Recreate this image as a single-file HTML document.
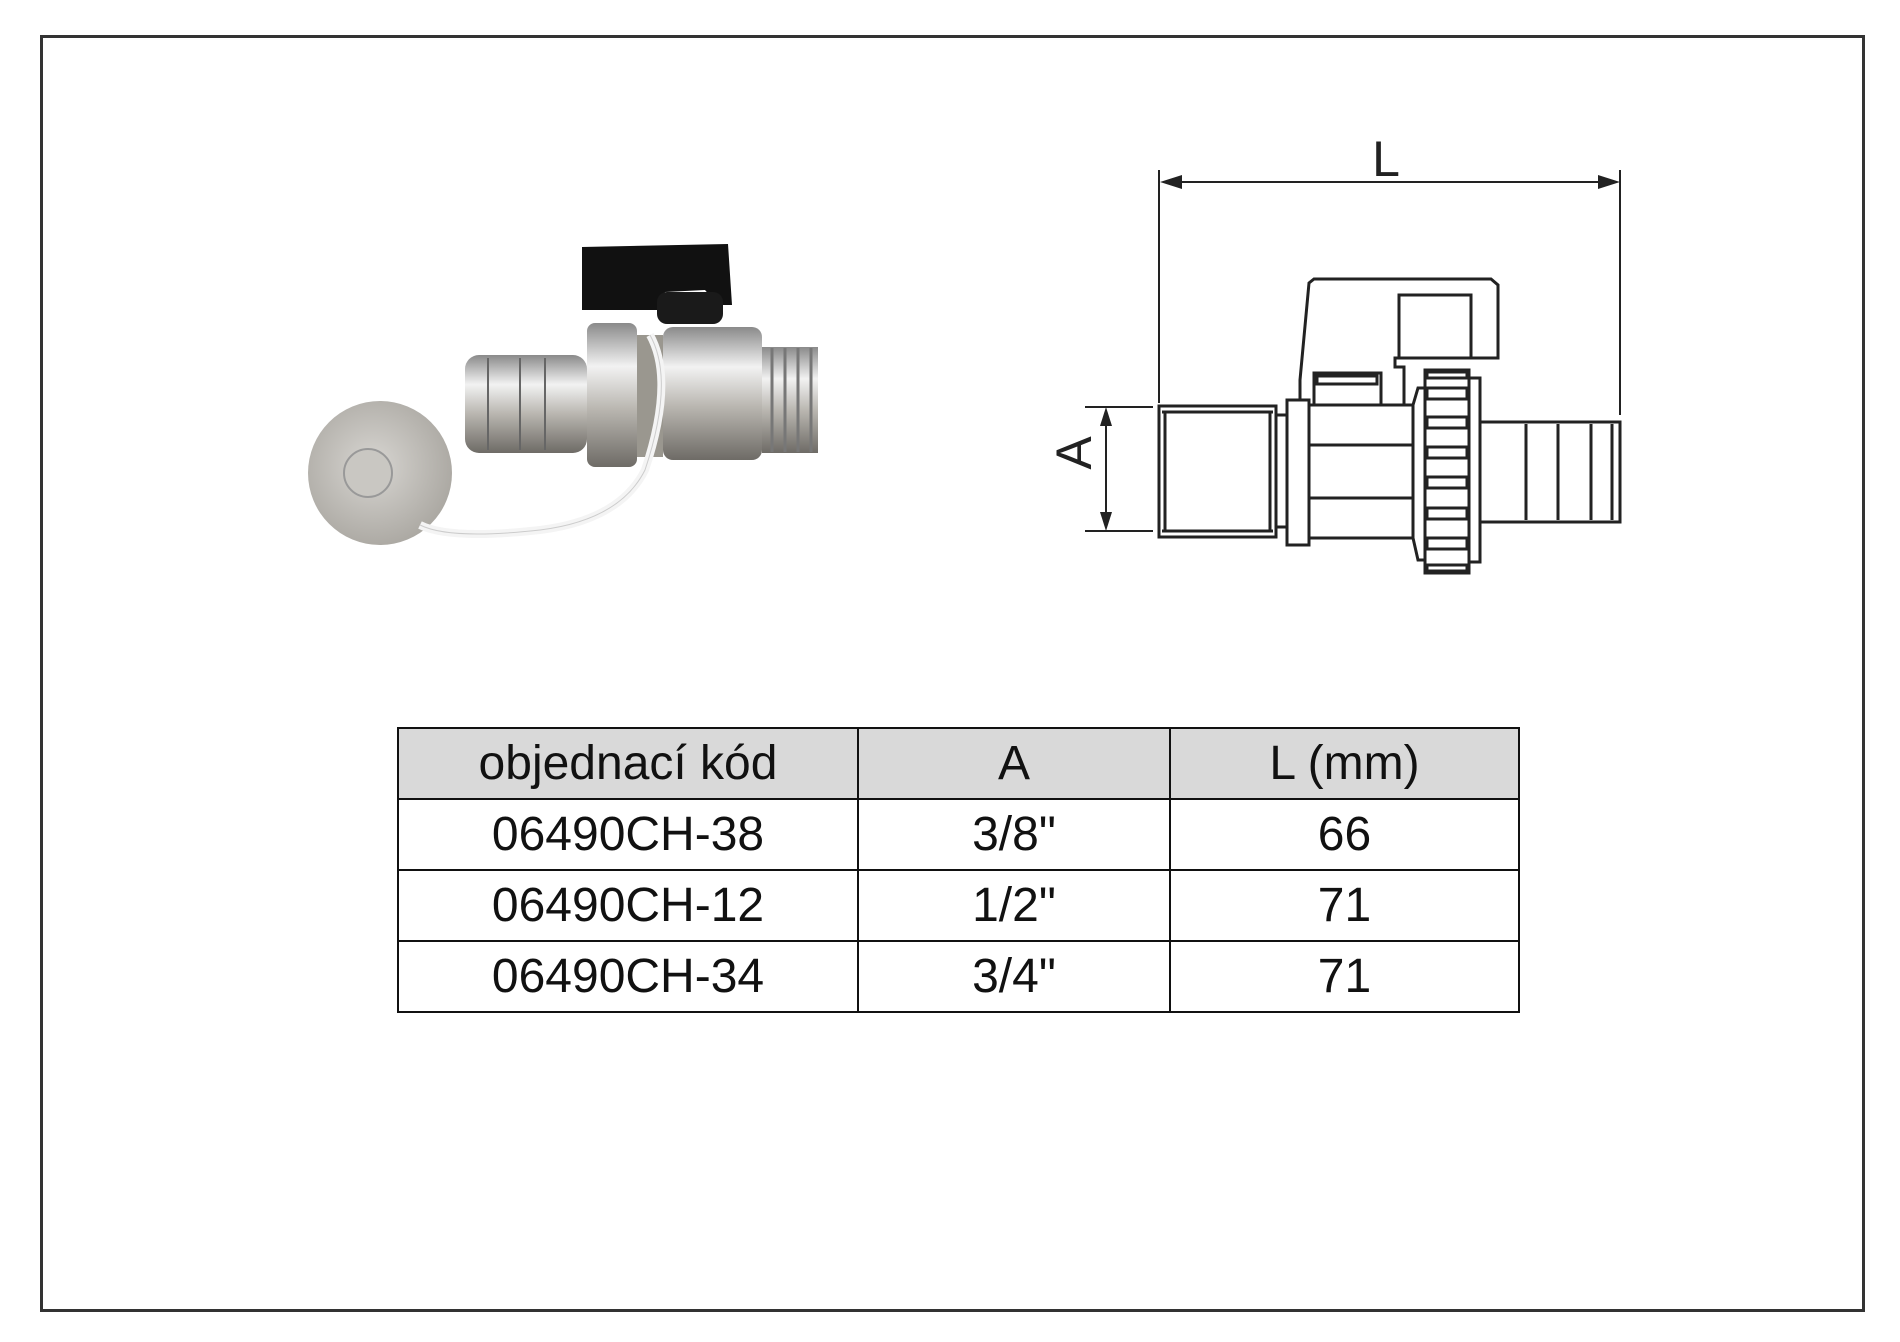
<!DOCTYPE html>
<html><head><meta charset="utf-8"><style>
html,body{margin:0;padding:0;background:#fff}
body{width:1900px;height:1342px;position:relative;overflow:hidden;font-family:"Liberation Sans",sans-serif}
.frame{position:absolute;left:40px;top:35px;width:1825px;height:1277px;border:3px solid #333;box-sizing:border-box}
table{position:absolute;left:397px;top:727px;border-collapse:collapse;font-size:48px;color:#111}
td{border:2.5px solid #111;text-align:center;height:69px;padding:0;line-height:69px}
tr.h td{background:#d9d9d9}
</style></head><body>
<div class="frame"></div>
<svg width="1900" height="1342" style="position:absolute;left:0;top:0">
<defs>
<linearGradient id="m" x1="0" y1="0" x2="0" y2="1"><stop offset="0" stop-color="#8a8a8a"/><stop offset=".3" stop-color="#f2f2f2"/><stop offset=".6" stop-color="#b9b6b0"/><stop offset="1" stop-color="#6e6b66"/></linearGradient>
<radialGradient id="c" cx=".45" cy=".45" r=".6"><stop offset="0" stop-color="#d8d6d2"/><stop offset="1" stop-color="#a9a6a0"/></radialGradient>
</defs>
<rect x="465" y="355" width="122" height="98" rx="14" fill="url(#m)"/>
<line x1="488" y1="358" x2="488" y2="450" stroke="#666" stroke-width="2"/>
<line x1="520" y1="358" x2="520" y2="450" stroke="#666" stroke-width="2"/>
<line x1="545" y1="358" x2="545" y2="450" stroke="#666" stroke-width="2"/>
<rect x="587" y="323" width="50" height="144" rx="8" fill="url(#m)"/>
<rect x="637" y="335" width="26" height="122" fill="#9a978f"/>
<rect x="663" y="327" width="99" height="133" rx="10" fill="url(#m)"/>
<rect x="762" y="347" width="56" height="106" fill="url(#m)"/>
<g stroke="#777" stroke-width="3"><line x1="772" y1="348" x2="772" y2="452"/><line x1="785" y1="348" x2="785" y2="452"/><line x1="798" y1="348" x2="798" y2="452"/><line x1="811" y1="348" x2="811" y2="452"/></g>
<path d="M582 247 L728 244 L732 305 L718 305 L705 290 L665 292 L658 310 L582 310 Z" fill="#111"/>
<rect x="657" y="292" width="66" height="32" rx="10" fill="#1a1a1a"/>
<circle cx="380" cy="473" r="72" fill="url(#c)"/>
<circle cx="368" cy="473" r="24" fill="#c9c7c2" stroke="#999" stroke-width="2"/>
<path d="M650 335 Q675 380 645 470 Q620 520 540 530 Q450 540 420 525" fill="none" stroke="#f4f4f4" stroke-width="8"/>
<path d="M650 335 Q675 380 645 470 Q620 520 540 530 Q450 540 420 525" fill="none" stroke="#ccc" stroke-width="1"/>
<g stroke="#222" fill="none">
<line x1="1159" y1="170" x2="1159" y2="403" stroke-width="2"/>
<line x1="1620" y1="170" x2="1620" y2="415" stroke-width="2"/>
<line x1="1175" y1="182" x2="1605" y2="182" stroke-width="2"/>
<line x1="1085" y1="407" x2="1153" y2="407" stroke-width="2"/>
<line x1="1085" y1="531" x2="1153" y2="531" stroke-width="2"/>
<line x1="1106" y1="422" x2="1106" y2="516" stroke-width="2"/>
</g>
<g fill="#222">
<path d="M1160 182 L1182 175 L1182 189 Z"/><path d="M1620 182 L1598 175 L1598 189 Z"/>
<path d="M1106 407 L1100 426 L1112 426 Z"/><path d="M1106 531 L1100 512 L1112 512 Z"/>
</g>
<text x="1386" y="176" font-size="50" text-anchor="middle" font-family="Liberation Sans" fill="#222">L</text>
<text transform="translate(1091,453) rotate(-90)" font-size="50" text-anchor="middle" font-family="Liberation Sans" fill="#222">A</text>
<g stroke="#222" stroke-width="3" fill="#fff">
<path d="M1300 380 L1309 283 L1314 279 L1491 279 L1498 285 L1498 358 L1395 358 L1395 367 L1404 367 L1404 405 L1300 405 Z"/>
<rect x="1399" y="295" width="72" height="63"/>
<rect x="1314" y="373" width="67" height="32"/>
<rect x="1317" y="376" width="60" height="8"/>
<rect x="1159" y="406" width="117" height="131"/>
<line x1="1165" y1="412" x2="1165" y2="531"/><line x1="1270" y1="412" x2="1270" y2="531"/>
<line x1="1162" y1="412" x2="1273" y2="412"/><line x1="1162" y1="531" x2="1273" y2="531"/>
<rect x="1276" y="415" width="11" height="112"/>
<rect x="1287" y="400" width="22" height="145"/>
<rect x="1309" y="405" width="104" height="133"/>
<line x1="1309" y1="445" x2="1413" y2="445"/><line x1="1309" y1="498" x2="1413" y2="498"/>
<path d="M1413 405 L1418 388 L1425 388 L1425 560 L1418 560 L1413 538 Z"/>
<rect x="1469" y="378" width="11" height="184"/>
<rect x="1480" y="422" width="140" height="100"/>
<line x1="1526" y1="424" x2="1526" y2="520"/><line x1="1558" y1="424" x2="1558" y2="520"/><line x1="1591" y1="424" x2="1591" y2="520"/><line x1="1612" y1="424" x2="1612" y2="520"/>
<rect x="1425" y="370" width="44" height="203"/>
</g>
<g stroke="#222" stroke-width="3" fill="#fff">
<rect x="1427" y="372" width="40" height="6"/>
<rect x="1427" y="388" width="40" height="11"/>
<rect x="1427" y="417" width="40" height="11"/>
<rect x="1427" y="447" width="40" height="11"/>
<rect x="1427" y="477" width="40" height="11"/>
<rect x="1427" y="508" width="40" height="11"/>
<rect x="1427" y="538" width="40" height="11"/>
<rect x="1427" y="565" width="40" height="6"/>
</g>
</svg>
<table>
<tr class="h"><td style="width:458px">objednací kód</td><td style="width:310px">A</td><td style="width:347px">L (mm)</td></tr>
<tr><td>06490CH-38</td><td>3/8"</td><td>66</td></tr>
<tr><td>06490CH-12</td><td>1/2"</td><td>71</td></tr>
<tr><td>06490CH-34</td><td>3/4"</td><td>71</td></tr>
</table>
</body></html>
